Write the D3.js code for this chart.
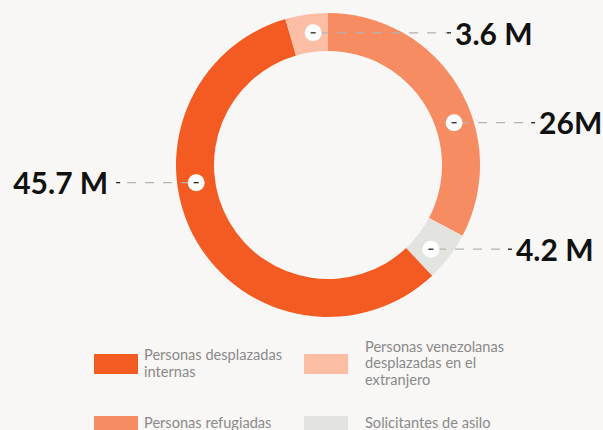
<!DOCTYPE html>
<html>
<head>
<meta charset="utf-8">
<script src="https://cdn.jsdelivr.net/npm/d3@7/dist/d3.min.js"></script>
<style>
  html, body { margin: 0; padding: 0; background: #f8f7f5; }
  #chart { width: 603px; height: 430px; overflow: hidden; }
  .value { font-family: Lato, "Open Sans", sans-serif; font-weight: 700; font-size: 30px; fill: #111; }
  .legend text { font-family: Lato, "Open Sans", sans-serif; font-size: 14.6px; fill: #8a8a8a; }
</style>
</head>
<body>
<div id="chart"></div>
<script>
(function() {
  // slices, clockwise from 12 o'clock
  const categories = [
    "Personas refugiadas",
    "Solicitantes de asilo",
    "Personas desplazadas internas",
    "Personas venezolanas desplazadas en el extranjero"
  ];
  const values = [26, 4.2, 45.7, 3.6];
  const valueLabels = ["26M", "4.2 M", "45.7 M", "3.6 M"];
  const colors = ["#f78b62", "#e3e3df", "#f45b22", "#fbbea5"];

  // legend reads row by row, two per row
  const legendOrder = [2, 3, 0, 1];

  const width = 603, height = 430;
  const cx = 328, cy = 165;
  const outerR = 152, innerR = 114;
  const midR = (outerR + innerR) / 2;

  let svg = d3.select("#chart")
    .append("svg")
    .attr("width", width)
    .attr("height", height);

  let pie = d3.pie().sort(null).value(d => d)(values);

  let arc = d3.arc().innerRadius(innerR).outerRadius(outerR);

  let g = svg.append("g")
    .attr("transform", "translate(" + cx + "," + cy + ")");

  g.selectAll("path.slice")
    .data(pie)
    .enter()
    .append("path")
    .attr("class", "slice")
    .attr("d", arc)
    .attr("fill", (d, i) => colors[i]);

  // where the dot sits inside each slice
  function dotPos(d) {
    let a = d.startAngle + 0.607 * (d.endAngle - d.startAngle);
    return [midR * Math.sin(a), -midR * Math.cos(a)];
  }

  let labels = pie.map(function(d, i) {
    let [x, y] = dotPos(d);
    let right = x > -midR / 2;
    // keep the leader clear of the ring
    let ringEdge = Math.sqrt(Math.max(0, outerR * outerR - y * y));
    let end = right
      ? Math.max(x + 79, ringEdge + 46)
      : Math.min(x - 78, -ringEdge - 46);
    return { i: i, x: x, y: y, end: end, right: right };
  });

  let lead = g.selectAll("g.lead")
    .data(labels)
    .enter()
    .append("g")
    .attr("class", "lead");

  lead.append("line")
    .attr("x1", d => d.x)
    .attr("x2", d => d.end)
    .attr("y1", d => d.y)
    .attr("y2", d => d.y)
    .attr("stroke", "#b3b3b3")
    .attr("stroke-width", 1.3)
    .attr("stroke-dasharray", "9,9")
    .attr("stroke-dashoffset", -6);

  lead.append("circle")
    .attr("cx", d => d.x)
    .attr("cy", d => d.y)
    .attr("r", 8.5)
    .attr("fill", "#fff");

  // little dark ticks at both ends of the leader
  lead.append("line")
    .attr("x1", d => d.x - 2.5)
    .attr("x2", d => d.x + 2.5)
    .attr("y1", d => d.y)
    .attr("y2", d => d.y)
    .attr("stroke", "#111")
    .attr("stroke-width", 1.2);

  lead.append("line")
    .attr("x1", d => d.end - 2)
    .attr("x2", d => d.end + 2)
    .attr("y1", d => d.y)
    .attr("y2", d => d.y)
    .attr("stroke", "#111")
    .attr("stroke-width", 1.2);

  lead.append("text")
    .attr("class", "value")
    .attr("x", d => d.right ? d.end + 6 : d.end - 10)
    .attr("y", d => d.y)
    .attr("dy", "0.39em")
    .attr("text-anchor", d => d.right ? "start" : "end")
    .text(d => valueLabels[d.i]);

  // legend
  let colX = [94, 304];
  let textX = [50, 61];
  let rowY = [354, 416];
  let lineH = 16.8;

  let legend = svg.append("g").attr("class", "legend");

  let items = legend.selectAll("g.item")
    .data(legendOrder)
    .enter()
    .append("g")
    .attr("class", "item")
    .attr("transform", (k, j) =>
      "translate(" + colX[j % 2] + "," + rowY[Math.floor(j / 2)] + ")");

  items.append("rect")
    .attr("width", 44)
    .attr("height", 20)
    .attr("fill", k => colors[k]);

  items.each(function(k, j) {
    let item = d3.select(this);
    let tx = textX[j % 2];
    let text = item.append("text").attr("x", tx);
    let words = categories[k].split(" ");
    let lines = [];
    let line = [];
    let probe = text.append("tspan");
    for (const w of words) {
      line.push(w);
      probe.text(line.join(" "));
      if (probe.node().getComputedTextLength() > 150 && line.length > 1) {
        line.pop();
        lines.push(line.join(" "));
        line = [w];
      }
    }
    lines.push(line.join(" "));
    probe.remove();
    let top = 10 - (lines.length - 1) * lineH / 2;
    lines.forEach(function(l, n) {
      text.append("tspan")
        .attr("x", tx)
        .attr("y", top + n * lineH)
        .attr("dy", lines.length > 1 ? "0.3em" : "0.15em")
        .text(l);
    });
  });
})();
</script>
</body>
</html>
